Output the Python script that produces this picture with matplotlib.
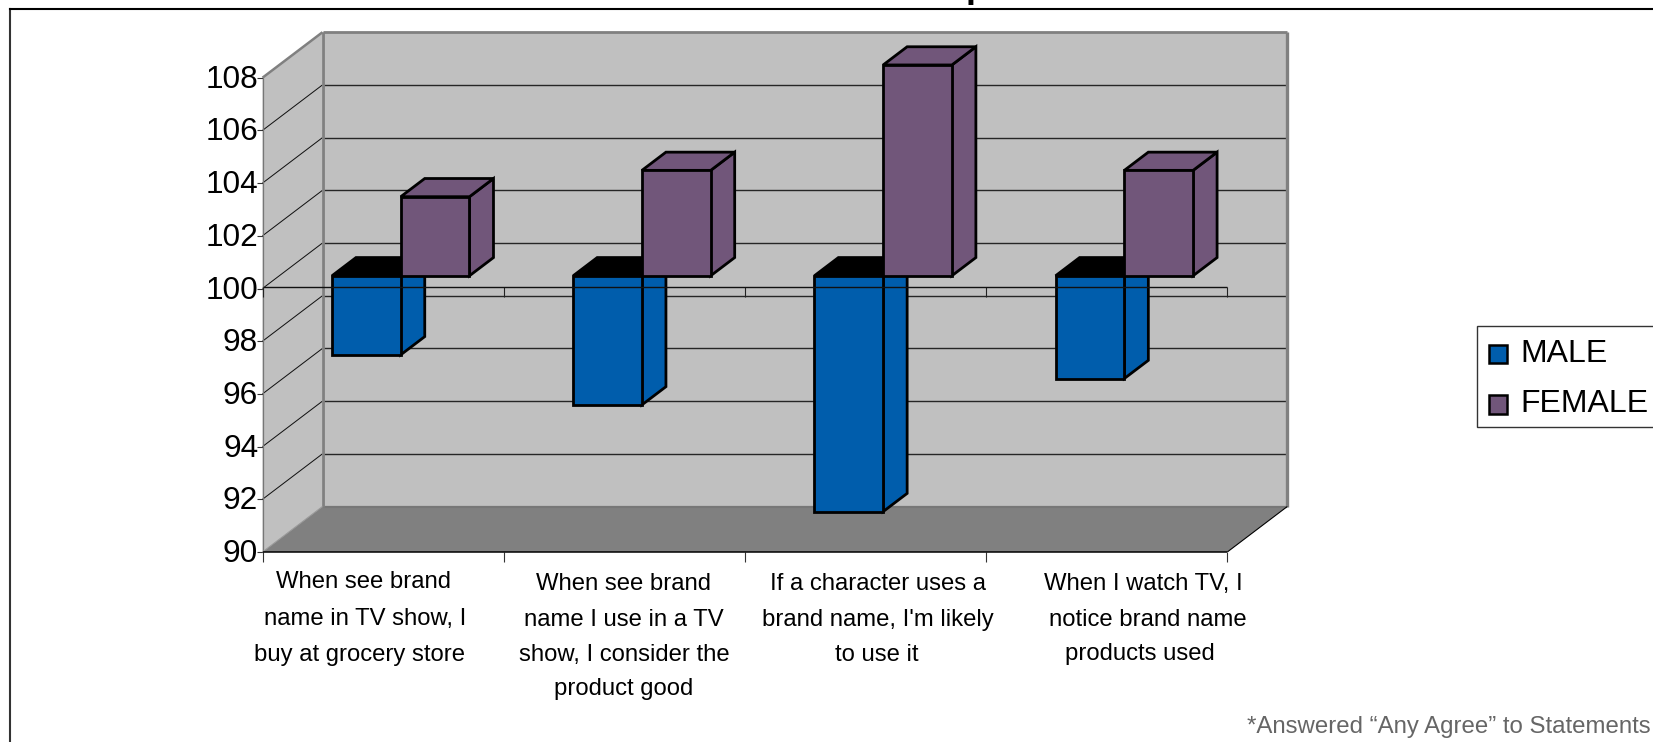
import matplotlib
matplotlib.use("Agg")
import matplotlib.pyplot as plt
from matplotlib.patches import Polygon, Rectangle
from matplotlib.lines import Line2D
from matplotlib.transforms import ScaledTranslation

plt.rcParams['font.family'] = ['Liberation Sans', 'DejaVu Sans']

# valores de la grafica
male = [97, 95.1, 91.05, 96.1]
female = [103, 104, 108, 104]
base = 100
series_names = ['MALE', 'FEMALE']
y_ticks = [90, 92, 94, 96, 98, 100, 102, 104, 106, 108]
category_lines = [
    ['When see brand', 'name in TV show, I', 'buy at grocery store'],
    ['When see brand', 'name I use in a TV', 'show, I consider the', 'product good'],
    ['If a character uses a', "brand name, I'm likely", 'to use it'],
    ['When I watch TV, I', 'notice brand name', 'products used'],
]
note = '*Answered “Any Agree” to Statements'

W, H = 1653, 742
BLUE = '#005DAC'
PURPLE = '#71567A'
WALL = '#C0C0C0'
FLOOR = '#808080'

fig = plt.figure(figsize=(W / 100, H / 100), dpi=100)


def fx(x):
    return x / W


def fy(y):
    return 1 - y / H


# el eje cubre el plano frontal, lo demas se dibuja desplazado en profundidad
left, right, top, bottom = 262.5, 1227.3, 77.7, 552.0
ax = fig.add_axes([fx(left), fy(bottom), fx(right - left), (bottom - top) / H])
ax.set_xlim(0, 4)
ax.set_ylim(90, 108)
for s in ax.spines.values():
    s.set_visible(False)
ax.patch.set_visible(False)

DX = 60 / ((right - left) / 4)
DY = 45.5 / ((bottom - top) / 18)


def p3(x, v, d=0.0):
    return (x + d * DX, v + d * DY)


def face(points, color, edge='none', lw=0.0, z=1):
    ax.add_patch(Polygon(points, closed=True, facecolor=color, edgecolor=edge,
                         linewidth=lw, zorder=z, clip_on=False, joinstyle='miter'))


def seg(a, b, color='black', lw=0.72, z=2):
    ax.plot([a[0], b[0]], [a[1], b[1]], color=color, lw=lw, zorder=z,
            clip_on=False, solid_capstyle='butt')


# paredes y piso
face([p3(0, 90, 1), p3(4, 90, 1), p3(4, 108, 1), p3(0, 108, 1)], WALL)
face([p3(0, 90), p3(0, 108), p3(0, 108, 1), p3(0, 90, 1)], WALL)
face([p3(0, 90), p3(4, 90), p3(4, 90, 1), p3(0, 90, 1)], FLOOR)

# lineas de la reticula
for v in y_ticks[1:-1]:
    seg(p3(0, v, 1), p3(4, v, 1), color='#262626', lw=1.0)
    seg(p3(0, v), p3(0, v, 1), color='#111111', lw=0.72)

seg(p3(0, 90, 1), p3(4, 90, 1), color='#777777', lw=1.6, z=2.1)
seg(p3(0, 90, 1), p3(0, 108, 1), color='#808080', lw=2.0, z=2.1)
seg(p3(0, 108, 1), p3(4, 108, 1), color='#808080', lw=2.0, z=2.1)
seg(p3(4, 90, 1), p3(4, 108, 1), color='#808080', lw=2.4, z=2.1)
seg(p3(0, 108), p3(0, 108, 1), color='#808080', lw=1.8, z=2.1)
seg(p3(0, 90), p3(0, 108), color='#777777', lw=0.9, z=2.1)
seg(p3(0, 90), p3(0, 90, 1), color='#999999', lw=0.8, z=2.1)
seg(p3(4, 90), p3(4, 90, 1), color='black', lw=0.8, z=2.1)
seg(p3(0, 90), p3(4, 90), color='black', lw=1.1, z=2.1)

# barras 3D
GAP, BAR_W = 0.2185, 0.285
D0, D1 = 0.28, 0.68
EDGE = 2.0


def bar3d(x0, x1, v, color, top_color, z):
    low, high = min(base, v), max(base, v)
    face([p3(x1, low, D0), p3(x1, low, D1), p3(x1, high, D1), p3(x1, high, D0)],
         color, 'black', EDGE, z)
    face([p3(x0, high, D0), p3(x1, high, D0), p3(x1, high, D1), p3(x0, high, D1)],
         top_color, 'black', EDGE, z)
    face([p3(x0, low, D0), p3(x1, low, D0), p3(x1, high, D0), p3(x0, high, D0)],
         color, 'black', EDGE, z + 0.1)


for i in range(len(male)):
    x0 = i + GAP
    bar3d(x0, x0 + BAR_W, male[i], BLUE, 'black', 3 + i * 0.01)
for i in range(len(female)):
    x0 = i + GAP + BAR_W
    bar3d(x0, x0 + BAR_W, female[i], PURPLE, PURPLE, 4 + i * 0.01)

# eje de categorias en 100 con sus marcas
px_unit = 1 / ((bottom - top) / 18)
axis_v = base + 1.2 * px_unit
seg(p3(0, axis_v), p3(4, axis_v), color='#111111', lw=1.0, z=3.5)
for i in range(5):
    seg((i, axis_v), (i, axis_v - 10 * px_unit), color='#222222', lw=0.8, z=2.5)

ax.set_yticks(y_ticks)
ax.set_xticks(range(5))
ax.set_xticklabels([])
ax.tick_params(axis='y', length=4.5, width=0.8, pad=-1.4, labelsize=22.8, color='#333333')
ax.tick_params(axis='x', length=7, width=0.8, color='#333333')
label_shift = ScaledTranslation(0, 1.5 / 100, fig.dpi_scale_trans)
for lab in ax.get_yticklabels():
    lab.set_transform(lab.get_transform() + label_shift)

# etiquetas de categorias, una linea por renglon
label_x = [[364, 365, 360], [624, 624, 624, 624], [878, 878, 877], [1143, 1148, 1140]]
label_y = [[588, 625.5, 661], [590, 625.5, 661, 695.5], [590, 626, 661], [590, 626, 660]]
for lines, xs, ys in zip(category_lines, label_x, label_y):
    for line, x, y in zip(lines, xs, ys):
        fig.text(fx(x), fy(y), line, ha='center', va='baseline', fontsize=17.2, color='black')

# marco exterior, abierto a la derecha y abajo
fig.add_artist(Line2D([fx(10), fx(10)], [0, fy(8.5)], color='#333333', lw=1.5))
fig.add_artist(Line2D([fx(10), 1], [fy(8.5), fy(8.5)], color='black', lw=1.5))

# resto del titulo que queda sobre el marco
fig.text(fx(965.5), fy(-3), 'p', fontsize=26, fontweight='bold', ha='left', va='baseline',
         color='black')

# leyenda
fig.add_artist(Rectangle((fx(1476.7), fy(427.3)), fx(1670 - 1476.7), (427.3 - 325.7) / H,
                         transform=fig.transFigure, facecolor='white',
                         edgecolor='#333333', linewidth=1.0))
legend_colors = [BLUE, PURPLE]
swatch_tops = [344.5, 395.0]
baselines = [362, 412]
for name, c, st, bl in zip(series_names, legend_colors, swatch_tops, baselines):
    fig.add_artist(Rectangle((fx(1488.8), fy(st + 18.5)), 18.5 / W, 18.5 / H,
                             transform=fig.transFigure, facecolor=c,
                             edgecolor='black', linewidth=1.8))
    fig.text(fx(1520.5), fy(bl), name, fontsize=23, ha='left', va='baseline', color='black')

fig.text(fx(1247), fy(732.5), note, fontsize=17.3, ha='left', va='baseline', color='#666666')

fig.savefig('out.png', dpi=100, facecolor='white')
